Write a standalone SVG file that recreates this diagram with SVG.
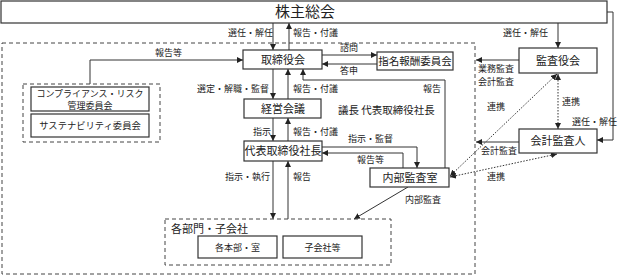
<svg xmlns="http://www.w3.org/2000/svg" width="621" height="277" viewBox="0 0 621 277">
<style>
text{font-family:"Noto Sans CJK JP","Noto Sans CJK SC",sans-serif;fill:#222;}
.box{fill:#fff;stroke:#333;stroke-width:1.2;}
.dash{fill:none;stroke:#444;stroke-width:1;stroke-dasharray:4 3;}
.c{fill:none;stroke:#333;stroke-width:1;}
.d{fill:none;stroke:#333;stroke-width:1;stroke-dasharray:1.5 1.5;}
.t{font-size:11px;text-anchor:middle;}
.l{font-size:9px;}
</style>
<defs>
<marker id="a" viewBox="0 0 10 10" refX="10" refY="5" markerWidth="6" markerHeight="6" orient="auto-start-reverse" markerUnits="userSpaceOnUse"><path d="M0,0 L10,5 L0,10 z" fill="#222"/></marker>
</defs>

<rect class="dash" x="2" y="43" width="473" height="231"/>

<g id="connectors">
<path class="c" d="M273,23 V50" marker-end="url(#a)"/>
<path class="c" d="M289,50 V23" marker-end="url(#a)"/>
<path class="c" d="M558,23 V48" marker-end="url(#a)"/>
<path class="c" d="M607,12 H613 V140 H597" marker-end="url(#a)"/>
<path class="c" d="M273,69 V99" marker-end="url(#a)"/>
<path class="c" d="M288,99 V69" marker-end="url(#a)"/>
<path class="c" d="M273,118 V141" marker-end="url(#a)"/>
<path class="c" d="M288,141 V118" marker-end="url(#a)"/>
<path class="c" d="M273,161 V219" marker-end="url(#a)"/>
<path class="c" d="M288,219 V161" marker-end="url(#a)"/>
<path class="c" d="M322,55 H377" marker-end="url(#a)"/>
<path class="c" d="M377,64 H322" marker-end="url(#a)"/>
<path class="c" d="M445,168 V80 H303 V69" marker-end="url(#a)"/>
<path class="c" d="M322,147 H417 V168" marker-end="url(#a)"/>
<path class="c" d="M403,168 V153 H322" marker-end="url(#a)"/>
<path class="c" d="M408,187 L354,219" marker-end="url(#a)"/>
<path class="c" d="M90,84 V60 H243" marker-end="url(#a)"/>
<path class="c" d="M519,60 H476" marker-end="url(#a)"/>
<path class="c" d="M519,142 H476" marker-end="url(#a)"/>
<path class="d" d="M558,74 V129" marker-start="url(#a)" marker-end="url(#a)"/>
<path class="d" d="M557,74 L450,176" marker-start="url(#a)" marker-end="url(#a)"/>
<path class="d" d="M557,154 L450,177" marker-start="url(#a)" marker-end="url(#a)"/>
</g>

<g id="labels">
<text class="l" x="228" y="36">選任・解任</text>
<text class="l" x="293" y="36">報告・付議</text>
<text class="l" x="503" y="36">選任・解任</text>
<text class="l" x="155" y="56">報告等</text>
<text class="l" x="340" y="51">諮問</text>
<text class="l" x="340" y="74">答申</text>
<text class="l" x="197" y="92">選定・解職・監督</text>
<text class="l" x="293" y="92">報告・付議</text>
<text class="l" x="423" y="92">報告</text>
<text style="font-size:10.5px" x="338" y="114">議長  代表取締役社長</text>
<text class="l" x="253" y="135">指示</text>
<text class="l" x="293" y="135">報告・付議</text>
<text class="l" x="348" y="142">指示・監督</text>
<text class="l" x="357" y="163">報告等</text>
<text class="l" x="225" y="180">指示・執行</text>
<text class="l" x="293" y="180">報告</text>
<text class="l" x="405" y="203">内部監査</text>
<text class="l" x="478" y="72">業務監査</text>
<text class="l" x="478" y="84.5">会計監査</text>
<text class="l" x="487" y="110">連携</text>
<text class="l" x="562" y="105">連携</text>
<text class="l" x="572" y="125">選任・解任</text>
<text class="l" x="481" y="154">会計監査</text>
<text class="l" x="487" y="180">連携</text>
</g>

<g id="shareholders">
<rect class="box" x="1" y="1" width="606" height="22"/>
<text x="305" y="17" style="font-size:15px;text-anchor:middle">株主総会</text>
</g>
<g id="board">
<rect class="box" x="243" y="50" width="79" height="19"/>
<text class="t" x="283" y="63.5">取締役会</text>
</g>
<g id="nomination">
<rect class="box" x="377" y="52" width="76" height="18"/>
<text class="t" x="415" y="65" style="font-size:10.5px">指名報酬委員会</text>
</g>
<g id="management">
<rect class="box" x="244" y="99" width="77" height="19"/>
<text class="t" x="283" y="112.5">経営会議</text>
</g>
<g id="president">
<rect class="box" x="244" y="141" width="78" height="20"/>
<text class="t" x="283" y="155">代表取締役社長</text>
</g>
<g id="internal-audit">
<rect class="box" x="370" y="168" width="79" height="19"/>
<text class="t" x="410" y="181.5">内部監査室</text>
</g>
<g id="auditors-board">
<rect class="box" x="519" y="48" width="78" height="25"/>
<text class="t" x="558" y="64.5">監査役会</text>
</g>
<g id="accounting-auditor">
<rect class="box" x="519" y="129" width="78" height="24"/>
<text class="t" x="558" y="145">会計監査人</text>
</g>
<g id="committees">
<rect class="dash" x="23" y="84" width="137" height="58"/>
<rect class="box" x="31" y="87" width="118" height="24"/>
<text x="90" y="97" style="font-size:9px;text-anchor:middle">コンプライアンス・リスク</text>
<text x="90" y="109" style="font-size:9px;text-anchor:middle">管理委員会</text>
<rect class="box" x="31" y="114" width="118" height="23"/>
<text x="90" y="129" style="font-size:9.3px;text-anchor:middle">サステナビリティ委員会</text>
</g>
<g id="divisions">
<rect class="dash" x="165" y="219" width="226" height="46"/>
<text x="171" y="233" style="font-size:11px">各部門・子会社</text>
<rect class="box" x="198" y="236" width="79" height="22"/>
<text x="237.5" y="250.5" style="font-size:9px;text-anchor:middle">各本部・室</text>
<rect class="box" x="283" y="236" width="79" height="22"/>
<text x="322.5" y="250.5" style="font-size:9px;text-anchor:middle">子会社等</text>
</g>
</svg>
